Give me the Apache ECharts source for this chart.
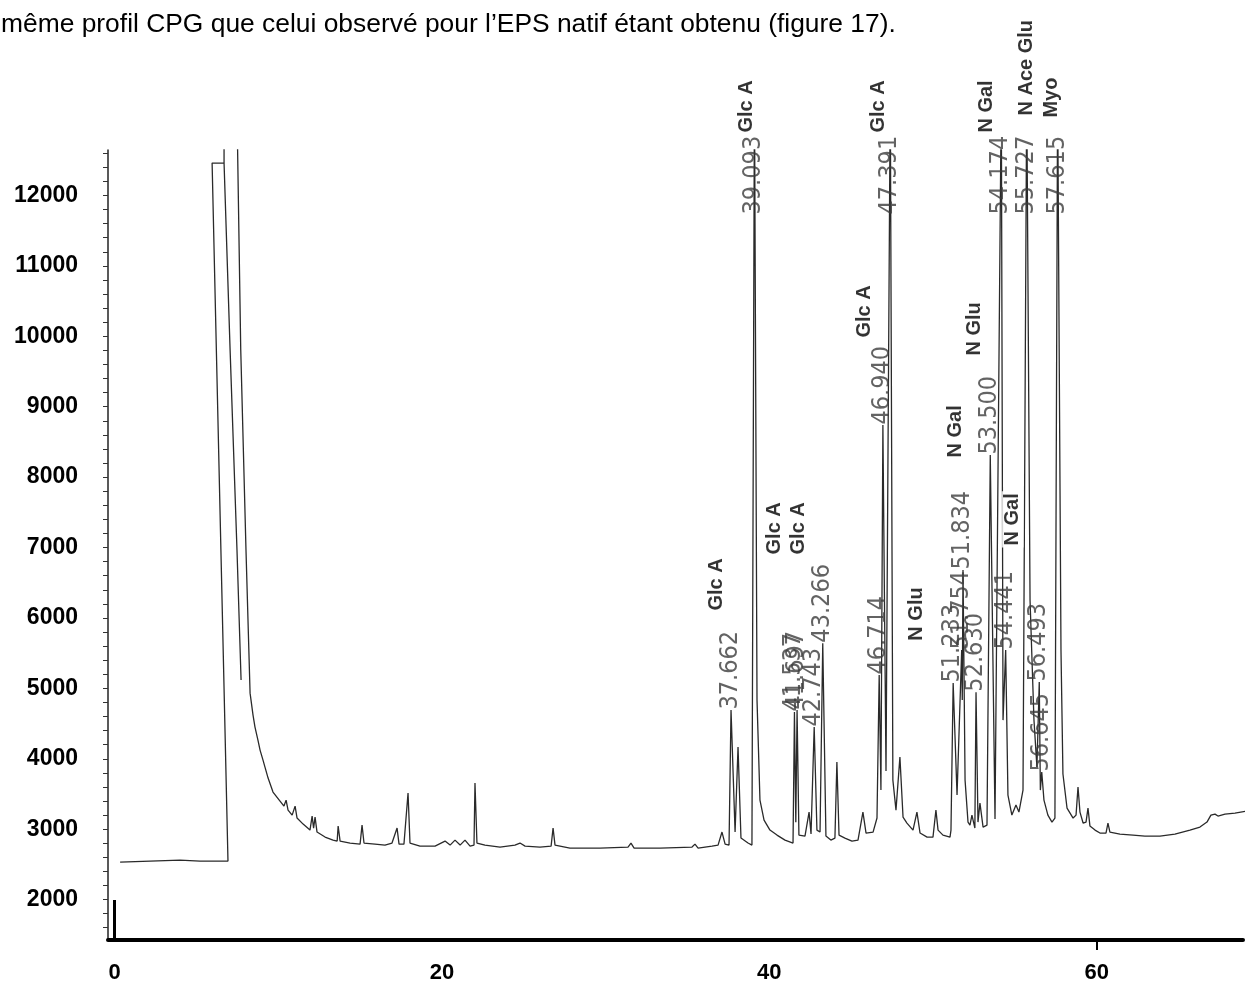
<!DOCTYPE html>
<html>
<head>
<meta charset="utf-8">
<script src="https://cdn.jsdelivr.net/npm/echarts@6/dist/echarts.min.js"></script>
<style>
html,body{margin:0;padding:0;background:#fff;}
#chart{width:1250px;height:992px;}
</style>
</head>
<body>
<div id="chart"></div>
<script>
const headerText = "même profil CPG que celui observé pour l’EPS natif étant obtenu (figure 17).";

// Chromatogram trace: retention time (min) and detector signal
const traceTime = [
 0.34, 2.17, 4.00, 5.22, 6.93, 5.96, 6.69, 7.06, 7.48, 7.73, 7.48, 7.06, 6.69, 6.69, 7.48, 7.71, 8.03, 8.28,
 8.46, 8.58, 8.76, 8.89, 9.07, 9.19, 9.38, 9.68, 10.11, 10.35, 10.48, 10.60, 10.85, 11.03, 11.15, 11.52,
 11.94, 12.07, 12.16, 12.25, 12.37, 12.86, 13.35, 13.60, 13.66, 13.78, 14.39, 15.00, 15.12, 15.24, 15.91,
 16.52, 16.95, 17.26, 17.38, 17.68, 17.93, 18.05, 18.66, 19.58, 20.19, 20.50, 20.80, 21.11, 21.41, 21.72,
 21.96, 22.02, 22.14, 22.63, 23.55, 24.46, 24.77, 25.08, 25.99, 26.67, 26.79, 26.91, 27.82, 29.66, 31.37,
 31.55, 31.74, 33.33, 35.28, 35.46, 35.65, 36.50, 36.87, 37.11, 37.30, 37.54, 37.662, 37.91, 38.09, 38.27,
 38.70, 38.94, 39.093, 39.25, 39.43, 39.68, 40.04, 40.47, 40.96, 41.45, 41.537, 41.62, 41.697, 41.81, 42.18,
 42.43, 42.55, 42.743, 42.91, 43.10, 43.266, 43.46, 43.76, 44.01, 44.13, 44.26, 44.62, 45.05, 45.42, 45.72,
 45.91, 46.34, 46.58, 46.714, 46.82, 46.940, 47.13, 47.391, 47.55, 47.74, 47.98, 48.17, 48.41, 48.78, 49.02,
 49.21, 49.64, 50.00, 50.18, 50.31, 50.61, 51.04, 51.10, 51.233, 51.47, 51.754, 51.79, 51.834, 51.96, 52.14,
 52.26, 52.38, 52.56, 52.630, 52.75, 52.87, 53.06, 53.30, 53.500, 53.79, 54.174, 54.28, 54.441, 54.58, 54.82,
 55.07, 55.25, 55.50, 55.727, 55.93, 56.17, 56.35, 56.493, 56.56, 56.645, 56.78, 57.02, 57.27, 57.45, 57.615,
 57.82, 57.94, 58.19, 58.56, 58.74, 58.86, 58.98, 59.17, 59.35, 59.47, 59.59, 59.90, 60.20, 60.57, 60.69,
 60.81, 61.42, 62.22, 62.95, 63.87, 64.78, 65.70, 66.31, 66.74, 66.98, 67.23, 67.41, 67.84, 68.45, 69.18
];
const traceSignal = [
 2533, 2547, 2561, 2547, 2547, 12461, 12461, 9804, 6964, 5118, 6964, 9804, 12461, 13200, 13200, 9804, 6964, 4932,
 4620, 4450, 4265, 4123, 3981, 3882, 3726, 3527, 3399, 3328, 3413, 3271, 3200, 3328, 3158, 3072,
 2987, 3186, 3016, 3172, 2959, 2888, 2845, 2831, 3044, 2831, 2803, 2788, 3058, 2803, 2788,
 2774, 2803, 3016, 2788, 2788, 3513, 2803, 2760, 2760, 2831, 2774, 2845, 2774, 2845, 2760,
 2774, 3655, 2803, 2774, 2746, 2774, 2803, 2760, 2746, 2760, 3016, 2774, 2732, 2732, 2746,
 2803, 2732, 2732, 2746, 2788, 2732, 2760, 2774, 2959, 2788, 2774, 4691, 2959, 4166, 2874,
 2803, 2774, 13500, 4833, 3413, 3129, 2987, 2916, 2845, 2803, 4663, 3100, 4691, 2916, 2902,
 3243, 2931, 4450, 2987, 2959, 5642, 2902, 2845, 2874, 3953, 2916, 2874, 2831, 2845, 3243,
 2945, 2959, 3158, 5189, 3555, 8740, 3825, 13500, 3697, 3271, 4024, 3172, 3087, 2987, 3243,
 2945, 2888, 2888, 3271, 2987, 2916, 2888, 2987, 5075, 3484, 5543, 4833, 6680, 3697, 3101,
 3058, 3200, 3016, 4946, 3101, 3371, 3030, 3058, 8313, 3143, 13500, 4549, 5543, 3484, 3200,
 3342, 3243, 3555, 13500, 6254, 4549, 3882, 5089, 3555, 3811, 3413, 3200, 3101, 3158, 13500,
 5543, 3783, 3300, 3158, 3200, 3598, 3243, 3087, 3101, 3300, 3044, 2987, 2945, 2945, 3087,
 2959, 2931, 2916, 2902, 2902, 2931, 2987, 3030, 3101, 3200, 3214, 3186, 3214, 3229, 3257
];

// Integrated peaks: retention time printed at the apex
const peakTimes = [37.662, 39.093, 41.537, 41.697, 42.743, 43.266, 46.714, 46.940, 47.391, 51.233,
  51.754, 51.834, 52.630, 53.500, 54.174, 54.441, 55.727, 56.493, 56.645, 57.615];
const peakLabelLevels = [4691, 11723, 4663, 4691, 4450, 5642, 5189, 8740, 11723, 5075,
  5543, 6680, 4946, 8313, 11723, 5543, 11723, 5089, 3811, 11723];

// Compound identification labels
const compoundNames = ['Glc A', 'Glc A', 'Glc A', 'Glc A', 'Glc A', 'Glc A', 'N Glu', 'N Gal', 'N Glu',
  'N Gal', 'N Gal', 'N Ace Glu', 'Myo'];
const compoundTimes = [36.80, 38.64, 40.35, 41.81, 45.84, 46.70, 49.02, 51.41, 52.56, 53.30, 54.89, 55.74, 57.27];
const compoundLevels = [6069, 12858, 6866, 6866, 9946, 12858, 5642, 8243, 9691, 12858, 6993, 13100, 13071];

// Axis ticks and labels
const xLabelValues = [0, 20, 40, 60];
const yLabelValues = [2000, 3000, 4000, 5000, 6000, 7000, 8000, 9000, 10000, 11000, 12000];
const yTickValues = [];
for (let v = 1600; v <= 12600; v += 200) yTickValues.push(v);

const X_MIN = -0.4, X_MAX = 68.94, Y_MIN = 1426, Y_MAX = 12646;

const chart = echarts.init(document.getElementById('chart'), null, {renderer: 'canvas'});
const option = {
  animation: false,
  backgroundColor: '#ffffff',
  title: {
    text: headerText, left: -4, top: 7,
    textStyle: {fontFamily: '"Liberation Sans", Arial, sans-serif', fontSize: 26.4, fontWeight: 'normal', color: '#000'}
  },
  grid: {left: 108, right: 7, top: 150, bottom: 52, containLabel: false},
  xAxis: [{
    type: 'value', min: X_MIN, max: X_MAX, position: 'bottom',
    axisLine: {show: true, onZero: false, lineStyle: {color: '#000', width: 4}},
    axisTick: {show: true, customValues: [60], length: 10, lineStyle: {color: '#000', width: 2}},
    axisLabel: {customValues: xLabelValues, margin: 22, fontSize: 22, fontWeight: 'bold',
      fontFamily: '"Liberation Sans", Arial, sans-serif', color: '#000',
      formatter: v => String(v)},
    splitLine: {show: false}
  }, {
    type: 'value', min: X_MIN, max: X_MAX, position: 'bottom',
    axisLine: {show: false},
    axisTick: {show: true, inside: true, customValues: [0], length: 40, lineStyle: {color: '#000', width: 3}},
    axisLabel: {show: false},
    splitLine: {show: false}
  }],
  yAxis: {
    type: 'value', min: Y_MIN, max: Y_MAX,
    axisLine: {show: true, onZero: false, lineStyle: {color: '#222', width: 1.5}},
    axisTick: {show: true, customValues: yTickValues, length: 5, lineStyle: {color: '#333', width: 1}},
    axisLabel: {customValues: yLabelValues, margin: 30, fontSize: 23, fontWeight: 'bold',
      fontFamily: '"Liberation Sans", Arial, sans-serif', color: '#000',
      formatter: v => String(v)},
    splitLine: {show: false}
  },
  series: [{
    type: 'line',
    data: traceTime.map((t, i) => [t, traceSignal[i]]),
    showSymbol: false, symbol: 'none', smooth: false, clip: true,
    lineStyle: {color: '#2a2a2a', width: 1.3},
    z: 2
  }, {
    type: 'scatter', clip: false,
    data: peakTimes.map((t, i) => ({value: [t, peakLabelLevels[i]], name: t.toFixed(3)})),
    symbolSize: 1, itemStyle: {color: 'rgba(0,0,0,0)'},
    label: {show: true, position: [0, 0], rotate: 90, align: 'left', verticalAlign: 'middle',
      formatter: '{b}', fontSize: 25, color: '#3c3c3c',
      fontFamily: '"Liberation Sans Narrow", "DejaVu Sans Condensed", sans-serif'},
    z: 3
  }, {
    type: 'scatter', clip: false,
    data: compoundTimes.map((t, i) => ({value: [t, compoundLevels[i]], name: compoundNames[i]})),
    symbolSize: 1, itemStyle: {color: 'rgba(0,0,0,0)'},
    label: {show: true, position: [0, 0], rotate: 90, align: 'left', verticalAlign: 'middle',
      formatter: '{b}', fontSize: 20, fontWeight: 'bold', color: '#000',
      backgroundColor: '#fff', padding: [1, 2],
      fontFamily: '"Liberation Sans", Arial, sans-serif'},
    z: 4
  }]
};
chart.setOption(option);
</script>
</body>
</html>
